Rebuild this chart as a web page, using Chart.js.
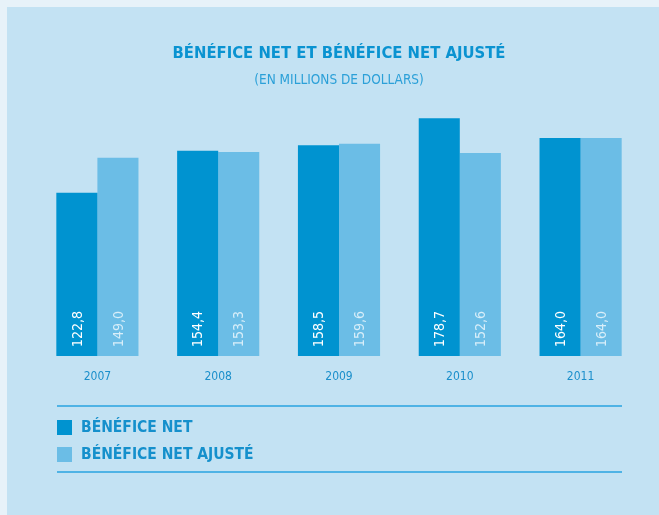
<!DOCTYPE html>
<html>
<head>
<meta charset="utf-8">
<script src="https://cdn.jsdelivr.net/npm/chart.js@4/dist/chart.umd.min.js"></script>
<style>
  html, body { margin: 0; padding: 0; background: #e7f2f9; width: 659px; height: 515px; overflow: hidden; }
  #panel { position: absolute; left: 7px; top: 7px; width: 652px; height: 508px; background: #c3e2f3; }
  canvas { display: block; }
</style>
</head>
<body>
<div id="panel"><canvas id="c" width="652" height="508"></canvas></div>
<script>
const categories = ["2007", "2008", "2009", "2010", "2011"];
const beneficeNet = [122.8, 154.4, 158.5, 178.7, 164.0];
const beneficeNetAjuste = [149.0, 153.3, 159.6, 152.6, 164.0];
const seriesNames = ["BÉNÉFICE NET", "BÉNÉFICE NET AJUSTÉ"];
const titleText = "BÉNÉFICE NET ET BÉNÉFICE NET AJUSTÉ";
const subtitleText = "(EN MILLIONS DE DOLLARS)";

const FONT = "'DejaVu Sans Condensed', 'DejaVu Sans', sans-serif";
const darkBlue = "#0093d0";
const lightBlue = "#6bbde6";

const fmt = v => v.toFixed(1).replace(".", ",");

const barLabels = {
  id: "barLabels",
  afterDatasetsDraw(chart) {
    const ctx = chart.ctx;
    const colors = ["#ffffff", "#d8eef9"];
    chart.data.datasets.forEach((ds, di) => {
      const meta = chart.getDatasetMeta(di);
      meta.data.forEach((bar, i) => {
        ctx.save();
        ctx.translate(bar.x, bar.base - 9);
        ctx.rotate(-Math.PI / 2);
        ctx.font = "14px " + FONT;
        ctx.fillStyle = colors[di];
        ctx.textAlign = "left";
        ctx.textBaseline = "middle";
        ctx.fillText(fmt(ds.data[i]), 0, 1);
        ctx.restore();
      });
    });
  }
};

const customLegend = {
  id: "customLegend",
  afterDraw(chart) {
    const ctx = chart.ctx;
    ctx.save();
    ctx.strokeStyle = "#29a3e0";
    ctx.lineWidth = 1.5;
    [399, 465].forEach(y => {
      ctx.beginPath();
      ctx.moveTo(50, y);
      ctx.lineTo(615, y);
      ctx.stroke();
    });
    chart.data.datasets.forEach((ds, di) => {
      const y = 413 + di * 27;
      ctx.fillStyle = ds.backgroundColor;
      ctx.fillRect(50, y, 15, 15);
      ctx.fillStyle = "#1590cc";
      ctx.font = "bold 15.5px " + FONT;
      ctx.textAlign = "left";
      ctx.textBaseline = "middle";
      ctx.fillText(ds.label, 74, y + 8);
    });
    ctx.restore();
  }
};

new Chart(document.getElementById("c"), {
  type: "bar",
  data: {
    labels: categories,
    datasets: [
      { label: seriesNames[0], data: beneficeNet, backgroundColor: darkBlue, borderWidth: 0 },
      { label: seriesNames[1], data: beneficeNetAjuste, backgroundColor: lightBlue, borderWidth: 0 }
    ]
  },
  options: {
    responsive: false,
    animation: false,
    layout: { padding: { top: 0, left: 30, right: 18, bottom: 116.6 } },
    datasets: { bar: { categoryPercentage: 0.68, barPercentage: 1.0 } },
    plugins: {
      legend: { display: false },
      tooltip: { enabled: false },
      title: {
        display: true,
        text: titleText,
        color: "#0a93d1",
        font: { family: FONT, size: 16.5, weight: "bold", lineHeight: 1.2 },
        padding: { top: 37, bottom: 4 }
      },
      subtitle: {
        display: true,
        text: subtitleText,
        color: "#2ba0d8",
        font: { family: FONT, size: 13.5, weight: "normal", lineHeight: 1.2 },
        padding: { top: 5, bottom: 1 }
      }
    },
    scales: {
      x: {
        grid: { display: false, drawTicks: false, tickLength: 0 },
        border: { display: false },
        ticks: { color: "#1b8fcb", font: { family: FONT, size: 12 }, padding: 14 }
      },
      y: {
        display: false,
        min: 0,
        max: 200
      }
    }
  },
  plugins: [barLabels, customLegend]
});
</script>
</body>
</html>
